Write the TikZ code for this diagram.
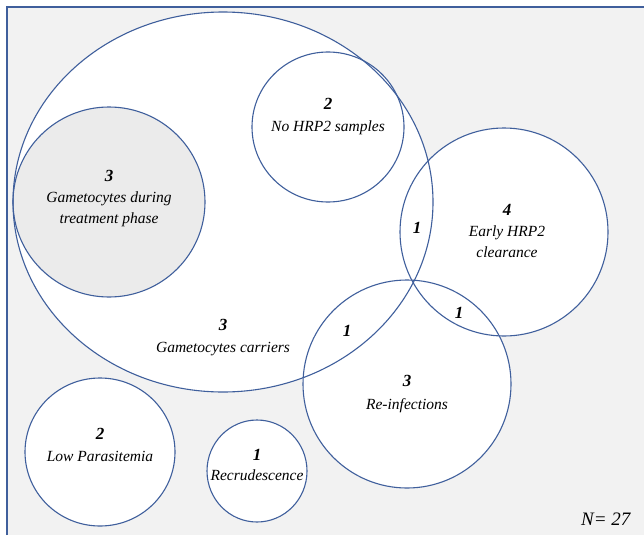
\documentclass[tikz,border=0pt]{standalone}
\usepackage{fontspec}
\setmainfont{Liberation Serif}
\usepackage{tikz}
\usetikzlibrary{positioning}
\definecolor{ink}{HTML}{3F5F9C}
\definecolor{paper}{HTML}{F2F2F2}
\definecolor{treatgray}{HTML}{EBEBEB}

\begin{document}
\begin{tikzpicture}[x=1pt,y=-1pt,font=\itshape\fontsize{15.5}{21}\selectfont,
  setline/.style={draw=ink,line width=1.1pt},
  count/.style={font=\bfseries\itshape\fontsize{17}{19}\selectfont,inner sep=0pt},
  tag/.style={align=center,inner sep=0pt}]
  \useasboundingbox (0,0) rectangle (644,535);
  \fill[paper] (7,7) rectangle (644,535);
  \draw[setline] (7,535) -- (7,7) -- (644,7);
  % The sets: filled first, outlined afterwards so every crossing stays visible.
  \foreach \cx/\cy/\rx/\ry/\tone in {223/202/210/190/white,328/127/76/75/white,
      109/202/96/95/treatgray,504/232/104/104/white,407/384/104/104/white,
      100/452/75/74/white,257/471/50/51/white}
    \fill[\tone] (\cx,\cy) ellipse [x radius=\rx pt,y radius=\ry pt];
  \foreach \cx/\cy/\rx/\ry in {223/202/210/190,328/127/76/75,109/202/96/95,
      504/232/104/104,407/384/104/104,100/452/75/74,257/471/50/51}
    \draw[setline] (\cx,\cy) ellipse [x radius=\rx pt,y radius=\ry pt];
  % Counts and set names.
  \node[count] (c-nohrp) at (328,104) {2};
  \node[tag,below=11pt of c-nohrp] (l-nohrp) {No HRP2 samples};
  \node[count] (c-treat) at (109,176) {3};
  \node[tag,below=10pt of c-treat] (l-treat) {Gametocytes during\\treatment phase};
  \node[count] (c-early) at (507,210) {4};
  \node[tag,below=10pt of c-early] (l-early) {Early HRP2\\clearance};
  \node[count] (c-carrier) at (223,325) {3};
  \node[tag,below=11pt of c-carrier] (l-carrier) {Gametocytes carriers};
  \node[count] (c-reinf) at (407,381) {3};
  \node[tag,below=11pt of c-reinf] (l-reinf) {Re-infections};
  \node[count] (c-low) at (100,434) {2};
  \node[tag,below=11pt of c-low] (l-low) {Low Parasitemia};
  \node[count] (c-recru) at (257,455) {1};
  \node[tag,below=9pt of c-recru] (l-recru) {Recrudescence};
  % Overlaps.
  \node[count] (c-early-carrier) at (417,228) {1};
  \node[count] (c-early-reinf) at (459,313) {1};
  \node[count] (c-reinf-carrier) at (347,331) {1};
  \node[anchor=east,font=\itshape\fontsize{19}{21}\selectfont] (total) at (634,519) {N= 27};
\end{tikzpicture}
\end{document}
